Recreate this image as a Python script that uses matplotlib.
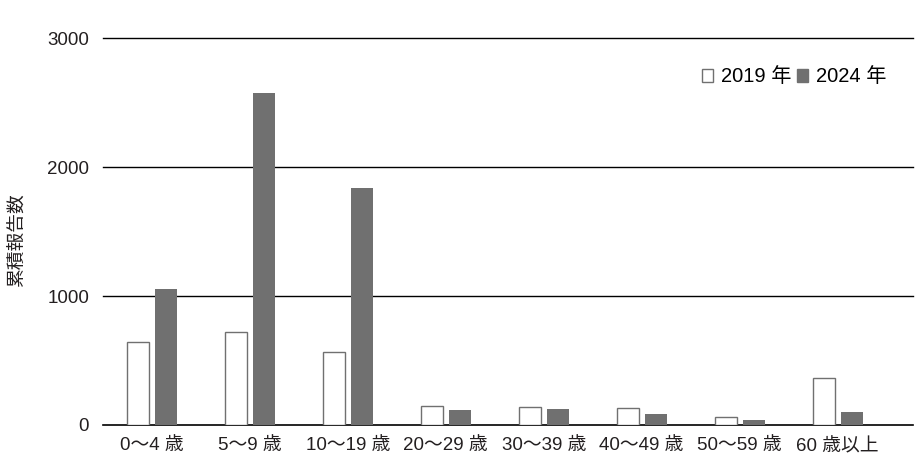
import matplotlib
matplotlib.use("Agg")
import matplotlib.pyplot as plt
import numpy as np
from matplotlib.patches import Patch

plt.rcParams['font.family'] = ['Liberation Sans', 'Noto Sans CJK JP']

categories = ["0～4 歳", "5～9 歳", "10～19 歳", "20～29 歳", "30～39 歳", "40～49 歳", "50～59 歳", "60 歳以上"]
values_2019 = [643, 721, 566, 145, 137, 130, 60, 362]
values_2024 = [1054, 2574, 1837, 116, 124, 85, 39, 101]
series_labels = ["2019 年", "2024 年"]
yticks = [0, 1000, 2000, 3000]

fig = plt.figure(figsize=(9.21, 4.62), dpi=100)
ax = fig.add_axes([0.1118, 0.0801, 0.8795, 0.8376])

x = np.arange(len(categories))
w = 0.225
off = 0.143
ax.bar(x - off, values_2019, w, facecolor="white", edgecolor="#707070", linewidth=1.0, zorder=3)
ax.bar(x + off, values_2024, w, facecolor="#707070", edgecolor="#707070", linewidth=0.0, zorder=3)

for t in yticks:
    ax.axhline(t, color="black", linewidth=1.0 if t else 1.2, zorder=2, clip_on=False)

ax.set_xlim(-0.5, 7.77)
ax.set_ylim(0, 3000)
ax.set_yticks(yticks)
ax.set_yticklabels([str(t) for t in yticks], fontsize=13.5, color="#231f20")
ax.set_xticks(x)
ax.set_xticklabels(categories, fontsize=13.5, color="#231f20")
ax.tick_params(axis="both", length=0)
ax.tick_params(axis="y", pad=10)
ax.tick_params(axis="x", pad=9)
for s in ax.spines.values():
    s.set_visible(False)

fig.text(0.019, 0.48, "累積報告数", rotation=90, va="center", ha="center", fontsize=13.5, color="#231f20")

handles = [Patch(facecolor="white", edgecolor="#707070", linewidth=1.0),
           Patch(facecolor="#707070", edgecolor="#707070")]
ax.legend(handles, series_labels, loc="upper right", bbox_to_anchor=(0.977, 0.945), frameon=False,
          fontsize=14.5, handlelength=0.55, handleheight=0.6, handletextpad=0.4,
          columnspacing=0.25, ncol=2, borderaxespad=0)

fig.savefig("out.png", dpi=100)
